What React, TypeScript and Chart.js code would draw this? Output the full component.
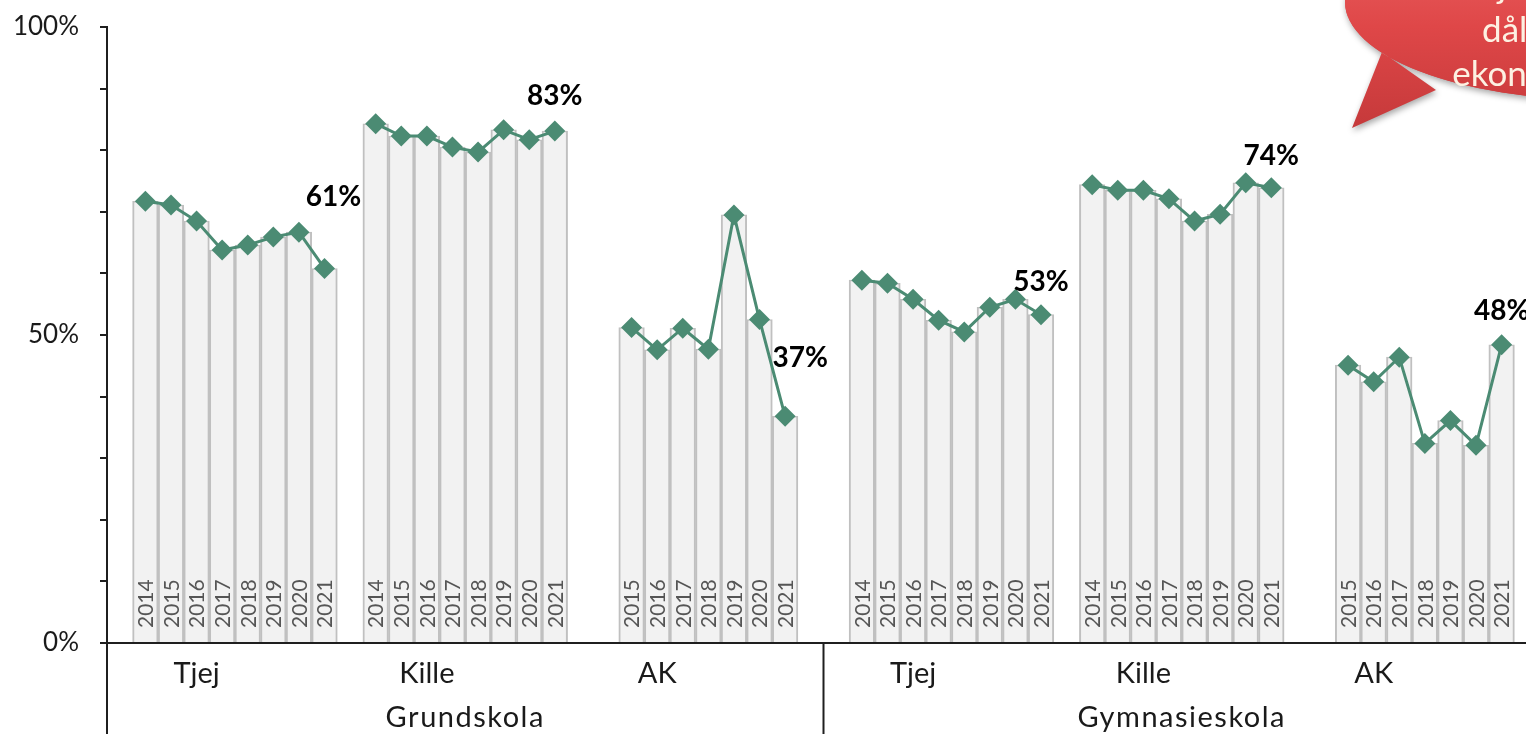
import React, { useEffect, useRef } from 'react';
import { Chart, registerables } from 'chart.js';

Chart.register(...registerables);

// ---------- data ----------
const schoolLevels = ['Grundskola', 'Gymnasieskola'];
const groups = ['Tjej', 'Kille', 'AK'];
const years = ['2014', '2015', '2016', '2017', '2018', '2019', '2020', '2021'];

const grundTjej: (number | null)[] = [71.7, 71.1, 68.5, 63.8, 64.6, 65.9, 66.7, 60.8];
const grundKille: (number | null)[] = [84.3, 82.3, 82.3, 80.5, 79.7, 83.3, 81.7, 83.1];
const grundAK: (number | null)[] = [null, 51.2, 47.6, 51.1, 47.7, 69.5, 52.5, 36.8];
const gymTjej: (number | null)[] = [58.9, 58.4, 55.8, 52.4, 50.5, 54.5, 55.8, 53.3];
const gymKille: (number | null)[] = [74.4, 73.5, 73.5, 72.1, 68.5, 69.6, 74.7, 73.9];
const gymAK: (number | null)[] = [null, 45.1, 42.4, 46.4, 32.4, 36.1, 32.1, 48.4];

const yTicks = [0, 50, 100];

const bubbleLines = ['familjer med', 'dålig', 'ekonomi'];

// ---------- style config ----------
const FONT = 'Lato, "DejaVu Sans", sans-serif';
const LINE_COLOR = '#4b8b73';
const BAR_FILL = '#f2f2f2';
const BAR_BORDER = '#c0c0c0';
const AXIS_COLOR = '#1f1f1f';
const W = 1560;
const H = 780;
const PLOT_TOP = 27;
const PLOT_BOTTOM = 643;
const PLOT_LEFT = 107;
const PLOT_RIGHT = 1540;
// label offsets (dx, dy) relative to the last point of each series
const labelOffsets = [
  [9, -72],
  [0, -35],
  [15, -58],
  [0, -33],
  [0, -32],
  [0, -34],
];

// ---------- build slots ----------
const seriesByLevel = [
  [grundTjej, grundKille, grundAK],
  [gymTjej, gymKille, gymAK],
];

const slotLabels: string[] = [];
const slotValues: (number | null)[] = [];
const slotYears: (string | null)[] = [];
const groupMeta: { name: string; labelSlot: number; lastSlot: number }[] = [];
const levelMeta: { name: string; start: number; end: number }[] = [];

seriesByLevel.forEach((levelSeries, li) => {
  const start = slotLabels.length;
  slotLabels.push(`gap-${slotLabels.length}`);
  slotValues.push(null);
  slotYears.push(null);
  levelSeries.forEach((series, gi) => {
    const first = slotLabels.length;
    years.forEach((yr, yi) => {
      slotLabels.push(`${schoolLevels[li]} ${groups[gi]} ${yr}`);
      slotValues.push(series[yi]);
      slotYears.push(series[yi] == null ? null : yr);
    });
    groupMeta.push({ name: groups[gi], labelSlot: first + 2, lastSlot: first + years.length - 1 });
    slotLabels.push(`gap-${slotLabels.length}`);
    slotValues.push(null);
    slotYears.push(null);
  });
  levelMeta.push({ name: schoolLevels[li], start, end: slotLabels.length - 1 });
});

const overlayPlugin = {
  id: 'overlay',
  afterDatasetsDraw(chart: any) {
    const { ctx, chartArea, scales } = chart;
    const x = scales.x;
    // year labels inside bars
    ctx.save();
    ctx.font = `21px ${FONT}`;
    ctx.fillStyle = '#555555';
    ctx.textAlign = 'left';
    ctx.textBaseline = 'middle';
    slotYears.forEach((yr, i) => {
      if (!yr) return;
      const px = x.getPixelForValue(i);
      ctx.save();
      ctx.translate(px + 1, chartArea.bottom - 15);
      ctx.rotate(-Math.PI / 2);
      ctx.fillText(yr, 0, 0);
      ctx.restore();
    });
    ctx.restore();
  },
  afterDraw(chart: any) {
    const { ctx, chartArea, scales, height } = chart;
    const x = scales.x;
    const y = scales.y;
    ctx.save();
    // extension lines of the category axis
    ctx.strokeStyle = AXIS_COLOR;
    ctx.lineWidth = 2;
    const sepXs = [chartArea.left];
    levelMeta.forEach((lm) => {
      const xr = (x.getPixelForValue(lm.end) + x.getPixelForValue(Math.min(lm.end + 1, slotLabels.length - 1))) / 2;
      sepXs.push(lm.end === slotLabels.length - 1 ? chartArea.right : xr);
    });
    sepXs.forEach((sx) => {
      ctx.beginPath();
      ctx.moveTo(sx, chartArea.bottom);
      ctx.lineTo(sx, height);
      ctx.stroke();
    });
    // group labels
    ctx.fillStyle = '#1a1a1a';
    ctx.textAlign = 'center';
    ctx.textBaseline = 'alphabetic';
    ctx.font = `29px ${FONT}`;
    groupMeta.forEach((g) => {
      ctx.fillText(g.name, x.getPixelForValue(g.labelSlot), 683);
    });
    try {
      (ctx as any).letterSpacing = '1.5px';
    } catch (e) {
      /* ignore */
    }
    levelMeta.forEach((lm) => {
      const cx = (x.getPixelForValue(lm.start) + x.getPixelForValue(lm.end)) / 2;
      ctx.fillText(lm.name, cx, 727);
    });
    try {
      (ctx as any).letterSpacing = '0px';
    } catch (e) {
      /* ignore */
    }
    // data labels for last value of each series
    ctx.font = `bold 28px ${FONT}`;
    ctx.fillStyle = '#000';
    ctx.textBaseline = 'middle';
    groupMeta.forEach((g, i) => {
      const v = slotValues[g.lastSlot];
      if (v == null) return;
      const [dx, dy] = labelOffsets[i] || [0, -34];
      ctx.fillText(`${Math.round(v)}%`, x.getPixelForValue(g.lastSlot) + dx, y.getPixelForValue(v) + dy);
    });
    ctx.restore();

    // speech bubble (top right)
    ctx.save();
    const grad = ctx.createLinearGradient(0, -100, 0, 130);
    grad.addColorStop(0, '#ee6b6b');
    grad.addColorStop(0.55, '#df4748');
    grad.addColorStop(1, '#c5393a');
    ctx.shadowColor = 'rgba(0,0,0,0.35)';
    ctx.shadowBlur = 6;
    ctx.shadowOffsetX = 1;
    ctx.shadowOffsetY = 3;
    ctx.fillStyle = grad;
    ctx.beginPath();
    ctx.ellipse(1600, 2, 255, 98, 0, 0, Math.PI * 2);
    ctx.moveTo(1382, 52);
    ctx.lineTo(1352, 128);
    ctx.lineTo(1436, 90);
    ctx.closePath();
    ctx.fill();
    ctx.shadowColor = 'transparent';
    ctx.beginPath();
    ctx.ellipse(1600, 2, 255, 98, 0, 0, Math.PI * 2);
    ctx.fill();
    ctx.fillStyle = '#fdf1e2';
    ctx.font = `35px ${FONT}`;
    ctx.textAlign = 'center';
    ctx.textBaseline = 'alphabetic';
    bubbleLines.forEach((t, i) => {
      ctx.fillText(t, 1518, -2 + i * 44);
    });
    ctx.restore();
  },
};

export default function App() {
  const canvasRef = useRef<HTMLCanvasElement | null>(null);

  useEffect(() => {
    let chart: Chart | null = null;
    let cancelled = false;
    const build = () => {
      if (cancelled || !canvasRef.current) return;
      chart = new Chart(canvasRef.current, {
        type: 'bar',
        data: {
          labels: slotLabels,
          datasets: [
            {
              type: 'line',
              label: 'Andel',
              data: slotValues,
              borderColor: LINE_COLOR,
              backgroundColor: LINE_COLOR,
              borderWidth: 3,
              pointStyle: 'rectRot',
              pointRadius: 10.5,
              pointBackgroundColor: LINE_COLOR,
              pointBorderWidth: 0,
              spanGaps: false,
              tension: 0,
              order: 0,
            } as any,
            {
              type: 'bar',
              label: 'Staplar',
              data: slotValues,
              backgroundColor: BAR_FILL,
              borderColor: BAR_BORDER,
              borderWidth: { left: 2, right: 2, top: 1.5, bottom: 0 },
              barPercentage: 1,
              categoryPercentage: 1,
              order: 1,
            } as any,
          ],
        },
        options: {
          animation: false,
          responsive: true,
          maintainAspectRatio: false,
          layout: { padding: { top: PLOT_TOP, right: W - PLOT_RIGHT, left: 0, bottom: 0 } },
          plugins: { legend: { display: false }, tooltip: { enabled: false } },
          scales: {
            x: {
              type: 'category',
              offset: true,
              grid: { display: false },
              border: { display: true, color: AXIS_COLOR, width: 2 },
              ticks: { display: false },
              afterFit: (s: any) => {
                s.height = H - PLOT_BOTTOM;
              },
            },
            y: {
              min: 0,
              max: 100,
              ticks: {
                stepSize: 10,
                autoSkip: false,
                padding: 21,
                color: '#1a1a1a',
                font: { family: FONT, size: 26 },
                callback: (v: any) => (yTicks.includes(Number(v)) ? `${v}%` : ''),
              },
              grid: { drawOnChartArea: false, drawTicks: true, tickLength: 7, color: AXIS_COLOR, lineWidth: 2 },
              border: { display: true, color: AXIS_COLOR, width: 2 },
              afterFit: (s: any) => {
                s.width = PLOT_LEFT;
                s.paddingTop = 0;
                s.paddingBottom = 0;
              },
            },
          },
        } as any,
        plugins: [overlayPlugin],
      });
    };
    const fontsReady = (document as any).fonts?.load
      ? Promise.all([
          (document as any).fonts.load(`29px Lato`),
          (document as any).fonts.load(`bold 28px Lato`),
        ]).catch(() => null)
      : Promise.resolve(null);
    fontsReady.then(build);
    return () => {
      cancelled = true;
      if (chart) chart.destroy();
    };
  }, []);

  return (
    <div style={{ position: 'fixed', left: 0, top: 0, width: '100vw', height: '100vh', overflow: 'hidden', background: '#fff' }}>
      <div style={{ position: 'absolute', left: 0, top: 0, width: W, height: H }}>
        <canvas ref={canvasRef} />
      </div>
    </div>
  );
}
